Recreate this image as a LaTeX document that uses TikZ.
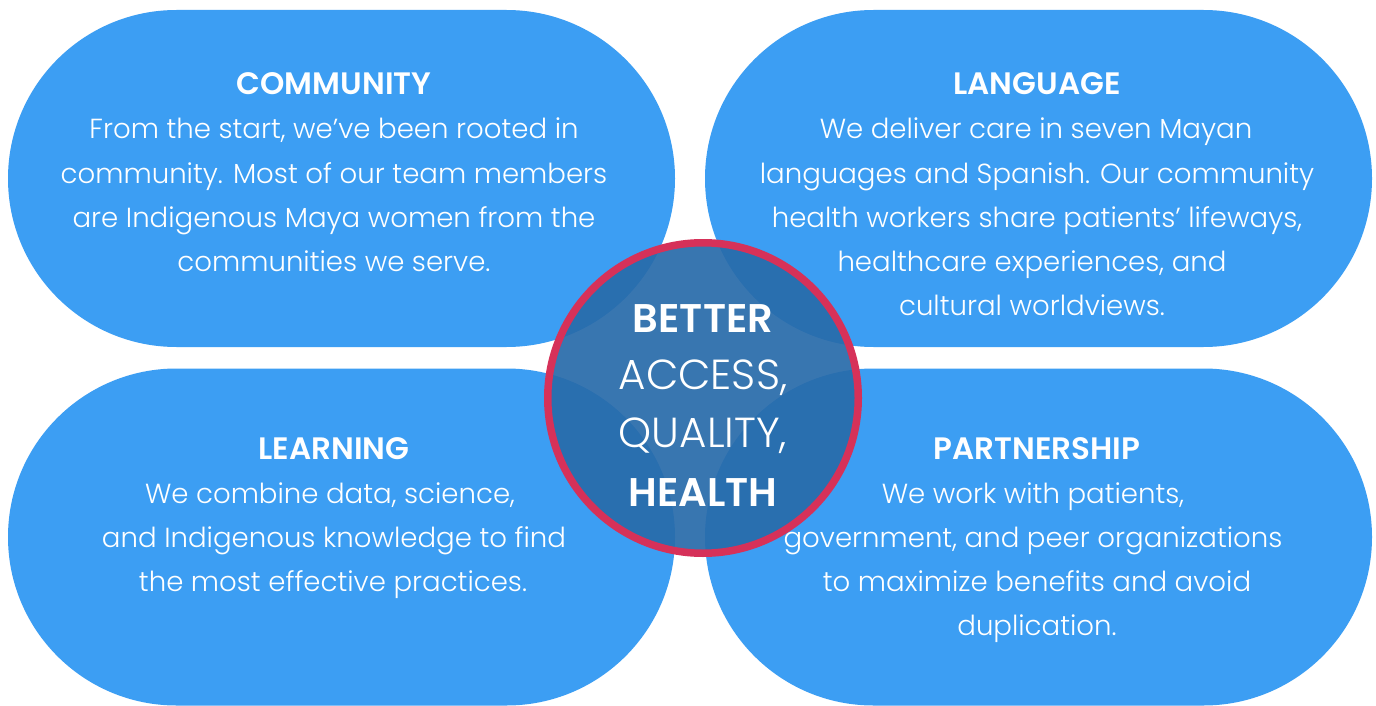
\documentclass[tikz,border=0pt]{standalone}
\usepackage{fontspec}
\setmainfont{Poppins}[UprightFont={* Light},BoldFont={* SemiBold}]
\usetikzlibrary{shapes.misc}
\definecolor{petal}{RGB}{60,158,243}
\definecolor{hubblue}{RGB}{40,107,170}
\definecolor{ringred}{RGB}{214,49,89}
\begin{document}
\begin{tikzpicture}[x=1pt,y=-1pt,
  stadium/.style={rounded rectangle, fill=petal, draw=none, inner sep=0pt,
    minimum width=667pt, minimum height=337pt},
  ttl/.style={text=white, font=\fontsize{31}{31}\selectfont\bfseries, anchor=base, inner sep=0pt},
  body/.style={text=white, font=\fontsize{27.6}{27.6}\selectfont, anchor=base, inner sep=0pt},
  hubbold/.style={text=white, font=\fontsize{40}{40}\selectfont\bfseries, anchor=base, inner sep=0pt},
  hublight/.style={text=white, font=\fontsize{42}{42}\selectfont, anchor=base, inner sep=0pt}]
\useasboundingbox (0,0) rectangle (1376,706);
\fill[white] (0,0) rectangle (1376,706);
% petals
\node[stadium] (commbox) at (341.5,178.5) {};
\node[stadium] (langbox) at (1038.5,178.5) {};
\node[stadium] (learnbox) at (341.5,537) {};
\node[stadium] (partbox) at (1038.5,537) {};
% hub
\node[circle, minimum size=310.5pt, inner sep=0pt, fill=hubblue, fill opacity=0.92,
      draw=ringred, line width=7.5pt] (hub) at (703,398) {};
% community
\node[ttl] (commt) at (334,95) {COMMUNITY};
\node[body] (comm1) at (334,139) {From the start, we’ve been rooted in};
\node[body] (comm2) at (334,183) {community. Most of our team members};
\node[body] (comm3) at (334,227) {are Indigenous Maya women from the};
\node[body] (comm4) at (334,271) {communities we serve.};
% language
\node[ttl] (langt) at (1037,95) {LANGUAGE};
\node[body] (lang1) at (1036,139) {We deliver care in seven Mayan};
\node[body] (lang2) at (1037,183) {languages and Spanish. Our community};
\node[body] (lang3) at (1037,227) {health workers share patients’ lifeways,};
\node[body] (lang4) at (1032,271) {healthcare experiences, and};
\node[body] (lang5) at (1032,315) {cultural worldviews.};
% learning
\node[ttl] (learnt) at (334,459) {LEARNING};
\node[body] (learn1) at (330,503) {We combine data, science,};
\node[body] (learn2) at (334,547) {and Indigenous knowledge to find};
\node[body] (learn3) at (333,591) {the most effective practices.};
% partnership
\node[ttl] (partt) at (1037,459) {PARTNERSHIP};
\node[body] (part1) at (1033,503) {We work with patients,};
\node[body] (part2) at (1033,547) {government, and peer organizations};
\node[body] (part3) at (1037,591) {to maximize benefits and avoid};
\node[body] (part4) at (1037,635) {duplication.};
% hub text
\node[hubbold] (h1) at (703,332) {BETTER};
\node[hublight] (h2) at (703,389) {ACCESS,};
\node[hublight] (h3) at (703,447) {QUALITY,};
\node[hubbold] (h4) at (703,506) {HEALTH};
\end{tikzpicture}
\end{document}
